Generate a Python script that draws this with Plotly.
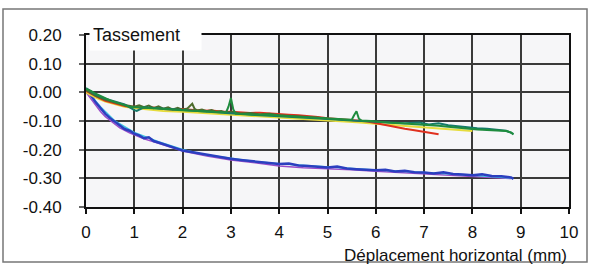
import plotly.graph_objects as go

# ---- data ----
blue_x = [0, 0.05, 0.1, 0.2, 0.3, 0.4, 0.5, 0.6, 0.7, 0.8,
          0.9, 1.0, 1.1, 1.2, 1.3, 1.4, 1.5, 1.6, 1.7, 1.8,
          1.9, 2.0, 2.2, 2.4, 2.6, 2.8, 3.0, 3.2, 3.4, 3.6,
          3.8, 4.0, 4.2, 4.4, 4.6, 4.8, 5.0, 5.2, 5.4, 5.6,
          5.8, 6.0, 6.2, 6.4, 6.6, 6.8, 7.0, 7.2, 7.4, 7.6,
          7.8, 8.0, 8.2, 8.4, 8.6, 8.8, 8.85]
blue_y = [0.012, 0.002, -0.010, -0.035, -0.055, -0.075, -0.090, -0.103, -0.115, -0.128,
          -0.134, -0.144, -0.150, -0.160, -0.157, -0.170, -0.175, -0.180, -0.186, -0.190,
          -0.197, -0.203, -0.209, -0.214, -0.221, -0.225, -0.232, -0.236, -0.239, -0.242,
          -0.246, -0.250, -0.248, -0.255, -0.257, -0.260, -0.262, -0.259, -0.266, -0.268,
          -0.270, -0.272, -0.270, -0.276, -0.274, -0.279, -0.280, -0.283, -0.279, -0.285,
          -0.287, -0.289, -0.286, -0.292, -0.293, -0.297, -0.302]

purple_x = [0, 0.1, 0.2, 0.3, 0.4, 0.5, 0.7, 0.9, 1.2, 1.5,
            2, 2.5, 3, 3.5, 4, 4.5, 5, 5.5, 6, 6.5,
            7, 7.5, 8, 8.5, 8.8]
purple_y = [0.0, -0.022, -0.047, -0.067, -0.085, -0.099, -0.124, -0.141, -0.162, -0.178,
            -0.205, -0.222, -0.236, -0.246, -0.257, -0.263, -0.266, -0.270, -0.275, -0.280,
            -0.284, -0.288, -0.293, -0.298, -0.301]

cyan_x = [0, 0.3, 0.6, 1, 1.5, 2, 2.5, 3, 3.5, 4, 5, 6, 7, 8, 8.8]
cyan_y = [0.01, -0.05, -0.1, -0.14, -0.172, -0.199, -0.219, -0.231, -0.241, -0.249,
          -0.261, -0.271, -0.280, -0.289, -0.299]

red_x = [0, 0.1, 0.2, 0.3, 0.4, 0.5, 0.6, 0.7, 0.8, 0.9,
         1.0, 1.2, 1.4, 1.6, 1.8, 2.0, 2.2, 2.4, 2.6, 2.8,
         3.0, 3.2, 3.4, 3.6, 3.8, 4.0, 4.2, 4.4, 4.6, 4.8,
         5.0, 5.2, 5.4, 5.6, 5.8, 6.0, 6.2, 6.4, 6.6, 6.8,
         7.0, 7.15, 7.3]
red_y = [0.005, -0.005, -0.015, -0.022, -0.030, -0.035, -0.040, -0.045, -0.048, -0.050,
         -0.050, -0.055, -0.053, -0.058, -0.060, -0.058, -0.062, -0.064, -0.063, -0.067,
         -0.068, -0.070, -0.072, -0.071, -0.074, -0.076, -0.078, -0.080, -0.082, -0.086,
         -0.090, -0.092, -0.095, -0.098, -0.101, -0.108, -0.113, -0.120, -0.127, -0.132,
         -0.137, -0.141, -0.146]

yellow_x = [0, 0.2, 0.4, 0.6, 0.8, 1.0, 1.3, 1.6, 2.0, 2.4,
            2.8, 3.2, 3.6, 4.0, 4.4, 4.8, 5.2, 5.6, 6.0, 6.4,
            6.8, 7.2, 7.6, 8.0]
yellow_y = [0.0, -0.018, -0.032, -0.042, -0.050, -0.055, -0.060, -0.065, -0.068, -0.072,
            -0.076, -0.080, -0.083, -0.086, -0.090, -0.095, -0.099, -0.104, -0.110, -0.115,
            -0.120, -0.125, -0.130, -0.135]

olive_x = [0, 0.2, 0.4, 0.6, 0.8, 1.0, 1.1, 1.2, 1.3, 1.4,
           1.5, 1.6, 1.7, 1.8, 1.9, 2.0, 2.1, 2.2, 2.25, 2.3,
           2.4, 2.5, 2.6, 2.7, 2.8, 2.9, 3.0, 3.2, 3.4, 3.6,
           3.8, 4.0, 4.3, 4.6, 5.0]
olive_y = [0.008, -0.012, -0.026, -0.036, -0.044, -0.050, -0.045, -0.052, -0.046, -0.055,
           -0.049, -0.057, -0.052, -0.060, -0.054, -0.061, -0.056, -0.040, -0.058, -0.063,
           -0.060, -0.066, -0.062, -0.068, -0.065, -0.071, -0.068, -0.074, -0.072, -0.077,
           -0.075, -0.080, -0.082, -0.086, -0.091]

teal_x = [0, 0.2, 0.4, 0.6, 0.8, 1.0, 1.05, 1.2, 1.6, 2.0,
          2.5, 3.0, 3.5, 4.0, 4.5, 5.0, 5.5, 6.0, 6.3, 6.6,
          6.9, 7.1, 7.3, 7.5, 7.7, 7.9, 8.1, 8.3, 8.5, 8.7,
          8.85]
teal_y = [0.015, -0.008, -0.022, -0.033, -0.042, -0.062, -0.065, -0.052, -0.057, -0.062,
          -0.068, -0.075, -0.079, -0.083, -0.087, -0.093, -0.098, -0.102, -0.104, -0.108,
          -0.105, -0.112, -0.108, -0.115, -0.118, -0.122, -0.125, -0.127, -0.130, -0.134,
          -0.145]

green_x = [0, 0.1, 0.2, 0.3, 0.4, 0.5, 0.6, 0.7, 0.8, 0.9,
           1.0, 1.1, 1.3, 1.5, 1.7, 1.9, 2.1, 2.3, 2.5, 2.7,
           2.9, 2.95, 3.0, 3.05, 3.1, 3.3, 3.5, 3.7, 3.9, 4.1,
           4.3, 4.5, 4.7, 4.9, 5.1, 5.3, 5.5, 5.55, 5.6, 5.65,
           5.7, 5.9, 6.1, 6.3, 6.5, 6.7, 6.9, 7.1, 7.3, 7.5,
           7.7, 7.9, 8.1, 8.3, 8.5, 8.7, 8.8, 8.85]
green_y = [0.012, 0.005, -0.005, -0.013, -0.020, -0.028, -0.034, -0.040, -0.045, -0.050,
           -0.052, -0.052, -0.055, -0.058, -0.060, -0.062, -0.063, -0.065, -0.067, -0.068,
           -0.070, -0.050, -0.020, -0.060, -0.075, -0.076, -0.078, -0.077, -0.080, -0.082,
           -0.084, -0.086, -0.088, -0.090, -0.093, -0.095, -0.096, -0.080, -0.066, -0.092,
           -0.098, -0.100, -0.104, -0.106, -0.108, -0.110, -0.112, -0.113, -0.117, -0.120,
           -0.124, -0.128, -0.130, -0.131, -0.133, -0.135, -0.140, -0.147]

x_ticks = [0, 1, 2, 3, 4, 5, 6, 7, 8, 9, 10]
y_ticks = [0.20, 0.10, 0.00, -0.10, -0.20, -0.30, -0.40]
y_tick_text = ["0.20", "0.10", "0.00", "-0.10", "-0.20", "-0.30", "-0.40"]

series = [
    (purple_x, purple_y, "#9a4cc8", 1.5),
    (cyan_x, cyan_y, "#3fc8e0", 1.5),
    (blue_x, blue_y, "#2b3fbf", 2.5),
    (yellow_x, yellow_y, "#e6dc3c", 2),
    (red_x, red_y, "#e0301e", 2),
    (olive_x, olive_y, "#4d6b2c", 2),
    (teal_x, teal_y, "#157a6a", 2),
    (green_x, green_y, "#1f8c3e", 2),
]

FONT = "Liberation Sans, Arial, sans-serif"

fig = go.Figure()
for xs, ys, col, w in series:
    fig.add_trace(go.Scatter(x=xs, y=ys, mode="lines",
                             line=dict(color=col, width=w), showlegend=False,
                             hoverinfo="skip"))

fig.update_layout(
    width=590, height=271,
    margin=dict(l=86, r=21, t=35, b=64),
    paper_bgcolor="white",
    plot_bgcolor="#f6f6f8",
    font=dict(family=FONT, size=17, color="#111"),
    showlegend=False,
)

fig.update_xaxes(
    range=[0, 10], tickvals=x_ticks, ticktext=[str(v) for v in x_ticks],
    showgrid=True, gridcolor="#3a3a3a", gridwidth=2,
    showline=True, linecolor="#111", linewidth=2, mirror=True,
    ticks="outside", ticklen=5, tickcolor="#111", tickwidth=1.5,
    ticklabelstandoff=4, zeroline=False,
)
fig.update_yaxes(
    range=[-0.40, 0.20], tickvals=y_ticks, ticktext=y_tick_text,
    showgrid=True, gridcolor="#3a3a3a", gridwidth=2,
    showline=True, linecolor="#111", linewidth=2, mirror=True,
    ticks="outside", ticklen=5, tickcolor="#666", tickwidth=1.5,
    ticklabelstandoff=14, zeroline=False,
)

# axis titles as annotations
fig.add_annotation(text="Tassement", xref="paper", yref="y",
                   x=(89 - 86) / 483, y=0.20, xanchor="left", yanchor="middle",
                   showarrow=False, bgcolor="white", width=105, height=24,
                   align="left", borderpad=3, font=dict(size=18, color="#111"))
fig.add_annotation(text="Déplacement horizontal (mm)", xref="paper", yref="paper",
                   x=1.0, y=0, xanchor="right", yanchor="middle", yshift=-48,
                   showarrow=False, font=dict(size=17, color="#111"))

# outer frame
fig.add_shape(type="rect", xref="paper", yref="paper",
              x0=(3 - 86) / 483, x1=(587 - 86) / 483,
              y0=(207 - 262) / 172, y1=(207 - 9) / 172,
              line=dict(color="#777", width=1.5), layer="below")

fig.write_html("out.html", config={"displayModeBar": False},
               post_script="document.body.style.margin='0';")
